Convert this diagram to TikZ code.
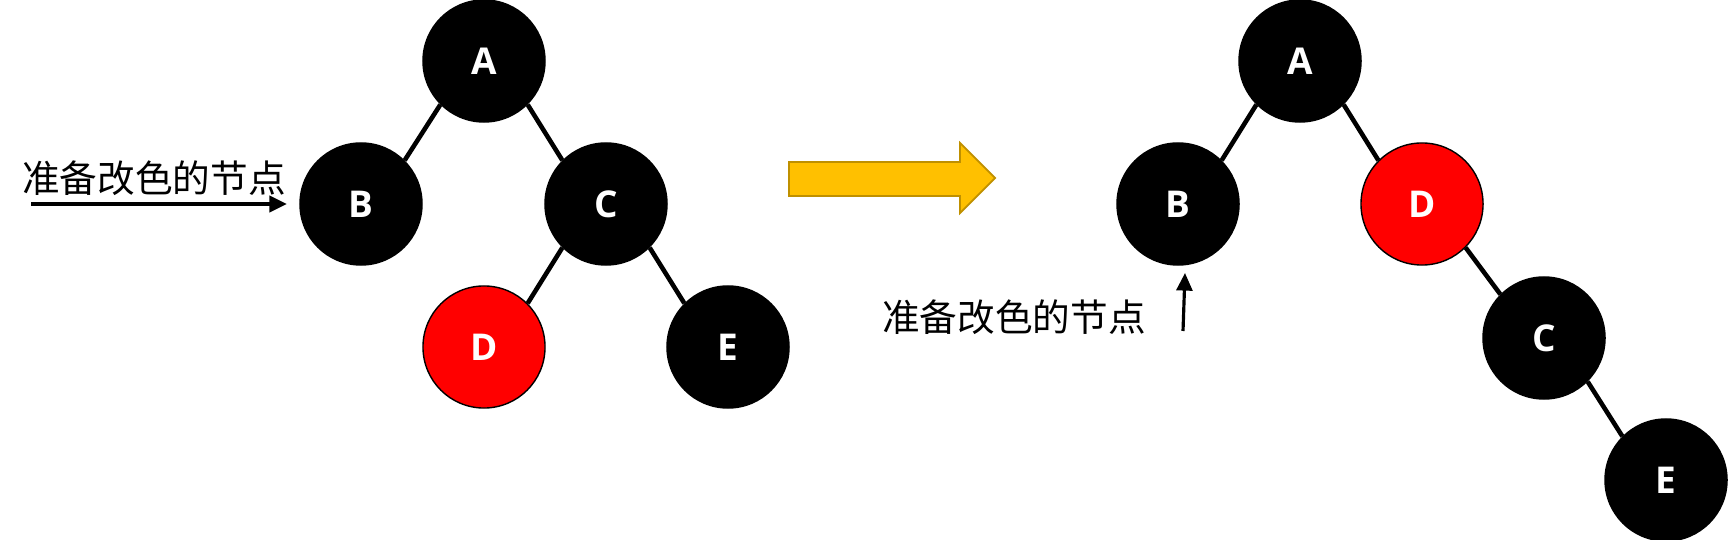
\documentclass[tikz,border=0pt]{standalone}
\usepackage{fontspec}
\setsansfont{Open Sans}
\newfontfamily\cjk{Noto Sans CJK SC}
\usetikzlibrary{arrows.meta}
\definecolor{gold}{HTML}{FFC000}
\definecolor{golddark}{HTML}{BF9000}
\tikzset{
  blacknode/.style={circle, fill=black, draw=black, line width=0.4pt, minimum size=1.22cm, inner sep=0pt,
    text=white, font=\sffamily\bfseries\fontsize{10.5}{12}\selectfont},
  rednode/.style={blacknode, fill=red},
  edge/.style={line width=1.3pt},
  note/.style={font=\cjk\fontsize{10.7}{12}\selectfont, inner sep=0pt}
}
\begin{document}
\begin{tikzpicture}[>=stealth, x=0.01cm, y=-0.01cm]
  \useasboundingbox (0,0) rectangle (1728,540);
  % tree before
  \node[blacknode] (A1) at (484,61) {A};
  \node[blacknode] (B1) at (361,204) {B};
  \node[blacknode] (C1) at (606,204) {C};
  \node[rednode] (D1) at (484,347) {D};
  \node[blacknode] (E1) at (728,347) {E};
  \draw[edge] (A1.south west) -- (B1.north east);
  \draw[edge] (A1.south east) -- (C1.north west);
  \draw[edge] (C1.south west) -- (D1.north east);
  \draw[edge] (C1.south east) -- (E1.north west);
  \node[note] (L1) at (154,178) {准备改色的节点};
  \coordinate (P1) at (31,204);
  \coordinate (Q1) at (287,204);
  \draw[-{Triangle[length=5pt,width=4.5pt]}, line width=1.15pt] (P1) -- (Q1);
  % big arrow
  \filldraw[fill=gold, draw=golddark, line width=0.5pt]
    (789,162) -- (960,162) -- (960,143) -- (995,178) -- (960,213) -- (960,196) -- (789,196) -- cycle;
  % tree after
  \node[blacknode] (A2) at (1300,61) {A};
  \node[blacknode] (B2) at (1178,204) {B};
  \node[rednode] (D2) at (1422,204) {D};
  \node[blacknode] (C2) at (1544,338) {C};
  \node[blacknode] (E2) at (1666,480) {E};
  \draw[edge] (A2.south west) -- (B2.north east);
  \draw[edge] (A2.south east) -- (D2.north west);
  \draw[edge] (D2.south east) -- (C2.north west);
  \draw[edge] (C2.south east) -- (E2.north west);
  \node[note] (L2) at (1014,317) {准备改色的节点};
  \coordinate (P2) at (1183,331);
  \coordinate (Q2) at (1185,273);
  \draw[-{Triangle[length=5pt,width=4.5pt]}, line width=0.9pt] (P2) -- (Q2);
\end{tikzpicture}
\end{document}
